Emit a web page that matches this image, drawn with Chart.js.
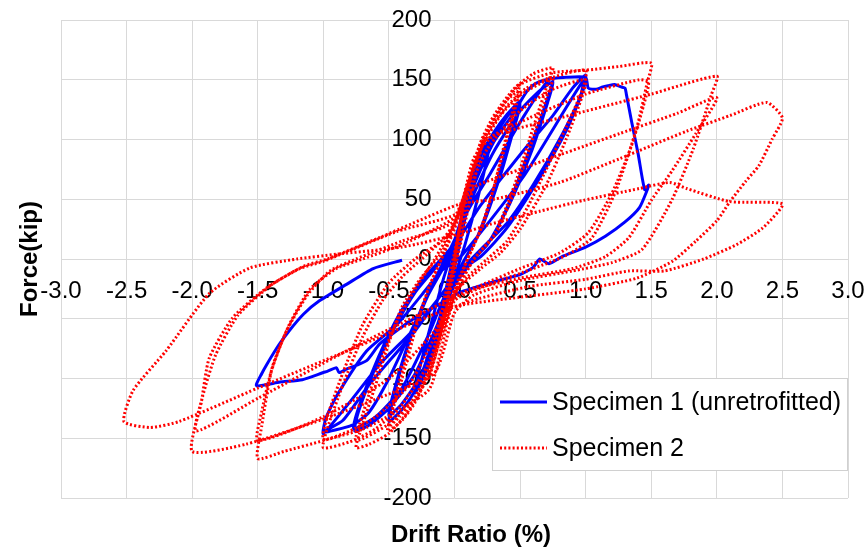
<!DOCTYPE html>
<html>
<head>
<meta charset="utf-8">
<script src="https://cdn.jsdelivr.net/npm/chart.js@4.4.0/dist/chart.umd.min.js"></script>
<style>
html,body{margin:0;padding:0;background:#fff;}
canvas{display:block;}
</style>
</head>
<body>
<canvas id="c" width="868" height="549"></canvas>
<script>
// ---- data (drift %, force kip) ----
const seriesNames = ['Specimen 1 (unretrofitted)', 'Specimen 2'];
const xTickValues = [-3.0,-2.5,-2.0,-1.5,-1.0,-0.5,0.0,0.5,1.0,1.5,2.0,2.5,3.0];
const xTickLabels = ['-3.0','-2.5','-2.0','-1.5','-1.0','-0.5','0.0','0.5','1.0','1.5','2.0','2.5','3.0'];
const yTickValues = [-200,-150,-100,-50,0,50,100,150,200];
const yTickLabels = ['-200','-150','-100','-50','0','50','100','150','200'];
const xTitle = 'Drift Ratio (%)';
const yTitle = 'Force(kip)';

const specimen1 = [
[0,0],[0.04,25],[0.08,45],[0.05,28],[0,0],[-0.04,-25],[-0.08,-45],[-0.05,-28],[0,0],
[0.06,40],[0.12,65],[0.15,74],[0.11,50],[0.03,8],[-0.05,-30],[-0.12,-65],[-0.16,-78],[-0.11,-48],[-0.03,-8],[0.02,15],
[0.1,58],[0.18,85],[0.24,96],[0.27,99],[0.26,90],[0.18,52],[0.08,12],[0,-15],[-0.1,-55],[-0.2,-90],[-0.3,-112],[-0.28,-98],[-0.18,-55],[-0.08,-15],[0,12],
[0.1,55],[0.2,86],[0.3,106],[0.4,121],[0.5,132],[0.47,120],[0.38,86],[0.28,50],[0.18,20],[0.08,0],[0,-18],[-0.1,-52],[-0.2,-86],[-0.3,-110],[-0.4,-126],[-0.5,-136],[-0.47,-118],[-0.39,-85],[-0.3,-55],[-0.2,-28],[-0.1,-6],[0,16],
[0.1,50],[0.25,92],[0.4,119],[0.5,129],[0.46,112],[0.35,70],[0.2,24],[0.05,-6],[-0.1,-45],[-0.25,-96],[-0.4,-121],[-0.5,-131],[-0.46,-110],[-0.35,-70],[-0.2,-30],[-0.05,0],[0.05,24],
[0.15,62],[0.3,98],[0.45,122],[0.55,140],[0.62,147],[0.75,151],[0.72,138],[0.6,100],[0.45,56],[0.3,20],[0.15,0],[0,-22],[-0.15,-60],[-0.3,-96],[-0.5,-125],[-0.65,-139],[-0.76,-144],[-0.73,-127],[-0.6,-90],[-0.45,-56],[-0.3,-28],[-0.15,-8],[0,14],
[0.15,55],[0.3,90],[0.5,124],[0.65,141],[0.75,148],[0.71,131],[0.58,88],[0.42,46],[0.25,12],[0.1,-5],[-0.05,-25],[-0.2,-64],[-0.4,-108],[-0.6,-132],[-0.77,-142],[-0.72,-121],[-0.58,-82],[-0.42,-46],[-0.25,-18],[-0.1,0],[0.04,18],
[0.2,45],[0.52,90],[0.75,120],[0.9,143],[1.0,154],[0.98,141],[0.85,107],[0.65,68],[0.4,26],[0.2,2],[0.04,-10],[-0.1,-30],[-0.32,-60],[-0.57,-88],[-0.8,-120],[-1.0,-146],[-0.98,-133],[-0.89,-113],[-0.67,-77],[-0.44,-55],[-0.25,-30],[-0.1,-10],[0.04,1],
[0.52,68],[0.98,149],[0.96,136],[0.8,100],[0.6,62],[0.4,30],[0.2,8],[0,-15],[-0.3,-60],[-0.65,-105],[-0.85,-135],[-1.0,-145],[-0.78,-139],[-0.65,-128],[-0.5,-100],[-0.35,-65],[-0.2,-30],[0,10],
[0.1,40],[0.27,71],[0.52,118],[0.72,150],[0.85,152],[1.0,152],[1.02,143],[1.08,142],[1.13,144],[1.17,145],[1.22,146],[1.27,144],[1.3,143],[1.31,138],[1.35,115],[1.4,88],[1.45,58],[1.48,62],[1.47,58],[1.41,43],[1.3,31],[1.15,19],[1.0,10],[0.82,2],[0.72,-4],[0.65,0],[0.6,-7],[0.5,-13],[0.3,-19],[0.15,-24],[0.04,-28],[-0.15,-40],[-0.34,-52],[-0.57,-71],[-0.67,-85],[-0.82,-92],[-0.88,-95],[-0.9,-91],[-0.97,-94],[-1.0,-95],[-1.16,-101],[-1.33,-103],[-1.51,-106],[-1.47,-96],[-1.43,-88],[-1.34,-72],[-1.26,-60],[-1.15,-46],[-1.03,-35],[-0.82,-21],[-0.62,-8],[-0.4,-1]
];

const specimen2 = [
[0,0],[0.03,20],[0.06,40],[0.04,25],[0,0],[-0.03,-20],[-0.06,-40],[-0.04,-25],[0,0],
[0.05,35],[0.1,60],[0.13,72],[0.1,55],[0.04,15],[-0.02,-15],[-0.08,-50],[-0.12,-70],[-0.1,-55],[-0.04,-15],[0.02,15],
[0.08,50],[0.14,78],[0.2,98],[0.22,102],[0.18,80],[0.1,40],[0.02,0],[-0.05,-35],[-0.12,-70],[-0.18,-95],[-0.2,-100],[-0.16,-78],[-0.08,-35],[0,5],
[0.08,50],[0.15,80],[0.25,108],[0.35,128],[0.45,142],[0.5,147],[0.47,135],[0.4,105],[0.3,60],[0.2,25],[0.1,0],[0,-25],[-0.1,-60],[-0.2,-95],[-0.3,-120],[-0.4,-135],[-0.51,-144],[-0.48,-130],[-0.4,-100],[-0.3,-60],[-0.2,-25],[-0.1,0],[0,25],
[0.1,62],[0.2,95],[0.3,118],[0.4,133],[0.5,141],[0.46,125],[0.35,80],[0.22,30],[0.1,0],[0,-30],[-0.1,-65],[-0.2,-98],[-0.3,-118],[-0.42,-132],[-0.5,-140],[-0.45,-115],[-0.35,-75],[-0.2,-25],[-0.1,0],[0,28],
[0.1,62],[0.2,98],[0.3,120],[0.45,142],[0.6,155],[0.75,160],[0.72,150],[0.6,110],[0.5,75],[0.4,45],[0.3,20],[0.15,0],[0,-30],[-0.1,-62],[-0.2,-96],[-0.35,-127],[-0.5,-146],[-0.65,-155],[-0.75,-158],[-0.72,-145],[-0.6,-105],[-0.5,-70],[-0.4,-40],[-0.25,-15],[-0.1,5],[0,30],
[0.1,60],[0.25,105],[0.4,128],[0.55,143],[0.75,152],[0.7,135],[0.58,95],[0.45,55],[0.32,22],[0.15,0],[0,-28],[-0.15,-80],[-0.3,-115],[-0.5,-138],[-0.75,-152],[-0.7,-130],[-0.58,-90],[-0.45,-55],[-0.3,-25],[-0.15,0],[0,30],
[0.1,62],[0.2,92],[0.35,120],[0.5,137],[0.75,152],[1.0,158],[0.98,143],[0.85,110],[0.7,75],[0.55,42],[0.4,15],[0.25,0],[0.1,-15],[0,-30],[-0.1,-58],[-0.2,-88],[-0.4,-122],[-0.6,-142],[-0.8,-153],[-1.0,-158],[-0.97,-142],[-0.85,-105],[-0.7,-65],[-0.55,-35],[-0.4,-15],[-0.25,0],[-0.1,15],[0,30],
[0.1,55],[0.25,92],[0.5,124],[0.75,142],[1.0,150],[0.97,135],[0.85,100],[0.7,62],[0.5,25],[0.35,5],[0.2,-8],[0,-28],[-0.15,-65],[-0.35,-106],[-0.6,-132],[-0.8,-144],[-1.0,-151],[-0.97,-132],[-0.85,-95],[-0.7,-55],[-0.5,-20],[-0.3,0],[-0.1,15],[0,28],
[0.1,62],[0.21,97],[0.35,125],[0.5,146],[0.75,156],[1.0,158],[1.25,161],[1.5,164],[1.47,148],[1.39,110],[1.23,57],[1.05,18],[0.85,3],[0.6,-8],[0.3,-20],[0,-35],[-0.1,-75],[-0.2,-110],[-0.67,-141],[-1.0,-152],[-1.3,-161],[-1.5,-167],[-1.47,-140],[-1.39,-91],[-1.26,-55],[-1.1,-25],[-0.9,-8],[-0.7,0],[-0.4,12],[-0.1,28],[0,35],
[0.1,60],[0.21,97],[0.57,118],[1.0,138],[1.41,150],[1.48,148],[1.44,128],[1.35,95],[1.2,55],[1.02,22],[0.8,5],[0.5,-8],[0.2,-22],[0,-32],[-0.15,-60],[-0.5,-100],[-1.0,-132],[-1.5,-152],[-1.47,-128],[-1.4,-95],[-1.28,-60],[-1.12,-30],[-0.95,-10],[-0.75,0],[-0.4,15],[0,32],
[0.15,85],[0.3,103],[0.8,118],[1.5,138],[2.0,153],[1.96,138],[1.82,92],[1.66,50],[1.43,8],[1.2,-3],[0.9,-10],[0.5,-18],[0.15,-30],[0,-45],[-0.15,-95],[-0.57,-116],[-1.0,-134],[-1.59,-155],[-2.0,-161],[-1.93,-120],[-1.87,-83],[-1.69,-49],[-1.43,-24],[-1.18,-8],[-1.0,-2],[-0.44,23],[0.02,38],
[0.15,60],[0.3,67],[0.8,87],[1.26,105],[1.7,122],[2.0,135],[1.84,105],[1.66,74],[1.5,49],[1.33,18],[1.15,2],[0.9,-8],[0.5,-16],[0.15,-25],[0,-32],[-0.72,-71],[-1.49,-116],[-1.97,-144],[-1.92,-115],[-1.82,-80],[-1.65,-47],[-1.4,-22],[-1.15,-6],[-0.97,0],[-0.57,18],[0.04,46],
[0.3,50],[0.8,64],[1.26,84],[1.77,107],[2.1,120],[2.38,131],[2.5,118],[2.42,100],[2.32,78],[2.22,65],[2.1,48],[2.0,32],[1.84,15],[1.66,-2],[1.39,-16],[1.0,-25],[0.5,-32],[0,-40],[-0.82,-77],[-1.5,-108],[-2.1,-136],[-2.32,-141],[-2.52,-136],[-2.45,-110],[-2.2,-77],[-1.87,-29],[-1.56,-7.5],[-1.2,0],[-0.9,4],[-0.4,10],[0.04,21],
[0.27,29],[0.65,40],[0.98,49],[1.41,59],[1.64,64],[1.77,59],[2.1,48],[2.5,46],[2.35,26],[2.15,12],[1.9,0],[1.6,-10],[1.33,-10],[1.0,-17],[0.57,-23],[0.19,-33],[0,-40]
];

const seriesColors = ['#0000ff', '#ff0000'];
const FONT = '"Liberation Sans", Arial, sans-serif';

const toXY = arr => arr.map(p => ({x: p[0], y: p[1]}));
const noPad = s => { s.paddingTop = 0; s.paddingBottom = 0; s.paddingLeft = 0; s.paddingRight = 0; };

const overlay = {
  id: 'overlay',
  afterDraw(chart) {
    const ctx = chart.ctx;
    ctx.save();
    ctx.fillStyle = '#000';
    ctx.font = 'bold 24px ' + FONT;
    ctx.textAlign = 'center';
    ctx.textBaseline = 'middle';
    ctx.fillText(xTitle, 471, 535);
    ctx.translate(30, 259);
    ctx.rotate(-Math.PI / 2);
    ctx.fillText(yTitle, 0, 0);
    ctx.restore();
    ctx.save();
    const bx = 492, by = 378, bw = 356, bh = 93;
    ctx.fillStyle = '#fff';
    ctx.fillRect(bx, by, bw, bh);
    ctx.strokeStyle = '#d0d0d0';
    ctx.lineWidth = 1;
    ctx.strokeRect(bx + 0.5, by + 0.5, bw - 1, bh - 1);
    const rows = [402, 448];
    rows.forEach((ry, i) => {
      ctx.beginPath();
      ctx.strokeStyle = seriesColors[i];
      ctx.lineWidth = i === 0 ? 3 : 3;
      ctx.setLineDash(i === 0 ? [] : [2, 2.2]);
      ctx.moveTo(500, ry);
      ctx.lineTo(547, ry);
      ctx.stroke();
      ctx.setLineDash([]);
      ctx.fillStyle = '#000';
      ctx.font = '25px ' + FONT;
      ctx.textAlign = 'left';
      ctx.textBaseline = 'middle';
      ctx.fillText(seriesNames[i], 552, ry + 1);
    });
    ctx.restore();
  }
};

new Chart(document.getElementById('c'), {
  type: 'scatter',
  data: {
    datasets: [
      { label: seriesNames[0], data: toXY(specimen1), showLine: true, borderColor: seriesColors[0], backgroundColor: seriesColors[0], borderWidth: 3, pointRadius: 0, tension: 0.2, order: 2 },
      { label: seriesNames[1], data: toXY(specimen2), showLine: true, borderColor: seriesColors[1], backgroundColor: seriesColors[1], borderWidth: 3, borderDash: [2, 2.2], pointRadius: 0, tension: 0.2, order: 1 }
    ]
  },
  options: {
    responsive: false,
    animation: false,
    devicePixelRatio: 1,
    layout: { padding: { left: 61, right: 20, top: 20, bottom: 51 } },
    plugins: { legend: { display: false }, tooltip: { enabled: false } },
    scales: {
      x: {
        type: 'linear', min: -3, max: 3,
        position: { y: 0 },
        afterBuildTicks: s => { s.ticks = xTickValues.map(v => ({ value: v })); },
        afterFit: noPad,
        ticks: { font: { family: FONT, size: 24 }, color: '#000', padding: 18, maxRotation: 0, autoSkip: false,
          callback: (v, i) => xTickLabels[i] },
        grid: { color: '#d9d9d9', lineWidth: 1, drawTicks: false },
        border: { display: false }
      },
      y: {
        type: 'linear', min: -200, max: 200,
        position: { x: -0.1753 },
        afterBuildTicks: s => { s.ticks = yTickValues.map(v => ({ value: v })); },
        afterFit: noPad,
        ticks: { font: { family: FONT, size: 24 }, color: '#000', padding: 0, autoSkip: false,
          callback: (v, i) => yTickLabels[i] },
        grid: { color: '#d9d9d9', lineWidth: 1, drawTicks: false },
        border: { display: false }
      }
    }
  },
  plugins: [overlay]
});
</script>
</body>
</html>
